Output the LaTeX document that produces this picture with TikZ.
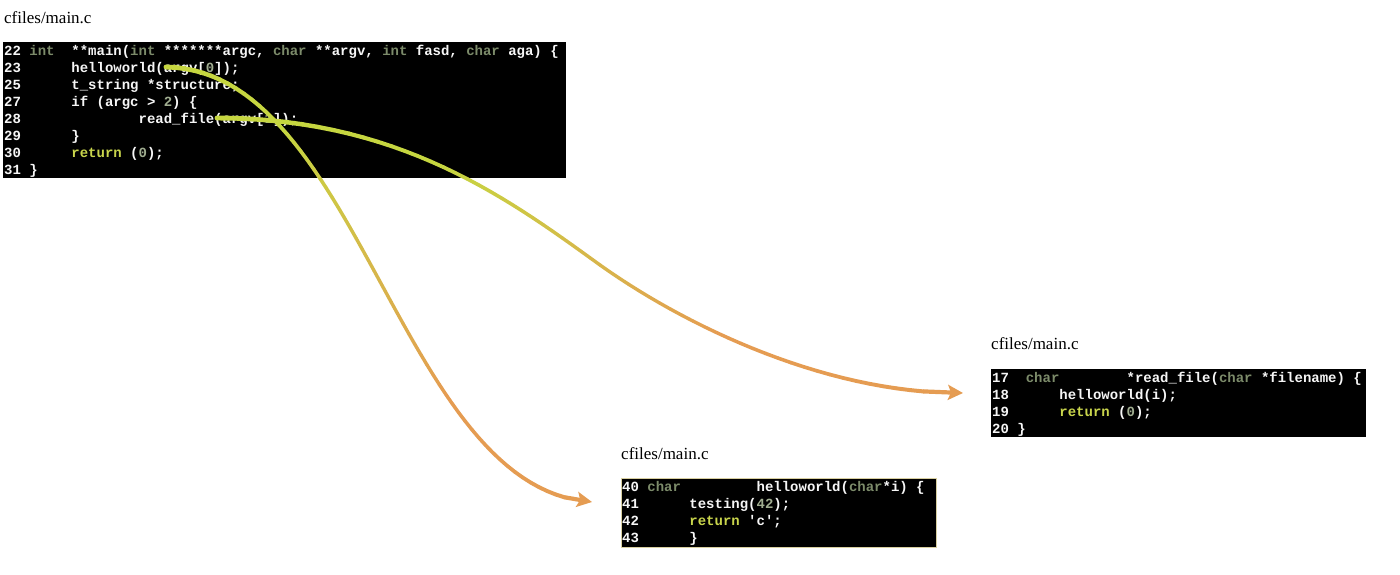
\documentclass[tikz,border=0pt]{standalone}
\usepackage{fontspec}
\setmainfont{Liberation Serif}
\setmonofont{Liberation Mono}
\usetikzlibrary{arrows.meta}
\definecolor{kwc}{RGB}{124,139,106}
\definecolor{numc}{RGB}{160,173,144}
\definecolor{retc}{RGB}{201,213,76}
\definecolor{codefg}{RGB}{246,246,246}
\definecolor{gA}{RGB}{198,214,64}
\definecolor{gB}{RGB}{229,156,82}
\definecolor{bordc}{RGB}{216,207,160}
\newlength\ccw
\setlength\ccw{8.4pt}
\newcommand\cpad[1]{\hspace*{#1\ccw}}
\newcommand\ckw[1]{\textcolor{kwc}{#1}}
\newcommand\cnum[1]{\textcolor{numc}{#1}}
\newcommand\cret[1]{\textcolor{retc}{#1}}
\newcommand\cs{\rule[-4pt]{0pt}{17pt}}
\tikzset{
  lbl/.style={font=\fontsize{17}{20}\selectfont, anchor=base west, inner sep=0pt},
  codebg/.style={fill=black, anchor=north west, inner sep=0pt},
  codetxt/.style={font=\ttfamily\bfseries\fontsize{14}{17}\selectfont, text=codefg,
    align=left, anchor=north west, inner sep=0pt},
  grad/.style={line cap=round},
  tipline/.style={line width=4.2pt, draw=gB, -{Stealth[length=15pt,width=15pt,inset=3pt]}}
}
\begin{document}
\begin{tikzpicture}[x=1pt,y=-1pt]
\useasboundingbox[fill=white] (0,0) rectangle (1400,574);

% ---- labels
\node[lbl] (lab1) at (4,23) {cfiles/main.c};
\node[lbl] (lab2) at (621,459) {cfiles/main.c};
\node[lbl] (lab3) at (991,349) {cfiles/main.c};

% ---- box 1
\node[codebg, minimum width=563pt, minimum height=136pt] (box1) at (3,42) {};
\node[codetxt] (txt1) at (4,42) {%
\cs 22 \ckw{int}\cpad{2}**main(\ckw{int} *******argc, \ckw{char} **argv, \ckw{int} fasd, \ckw{char} aga) \{\\
\cs 23\cpad{6}helloworld(argv[\cnum{0}]);\\
\cs 25\cpad{6}t\_string *structure;\\
\cs 27\cpad{6}if (argc > \cnum{2}) \{\\
\cs 28\cpad{14}read\_file(argv[\cnum{1}]);\\
\cs 29\cpad{6}\}\\
\cs 30\cpad{6}\cret{return} (\cnum{0});\\
\cs 31 \}};

% ---- box 2
\node[codebg, draw=bordc, line width=0.8pt, minimum width=315pt, minimum height=69pt] (box2) at (621,478) {};
\node[codetxt] (txt2) at (622,478.5) {%
\cs 40 \ckw{char}\cpad{9}helloworld(\ckw{char}*i) \{\\
\cs 41\cpad{6}testing(\cnum{42});\\
\cs 42\cpad{6}\cret{return} 'c';\\
\cs 43\cpad{6}\}};

% ---- box 3
\node[codebg, minimum width=375pt, minimum height=68pt] (box3) at (991,369) {};
\node[codetxt] (txt3) at (992,369) {%
\cs 17\cpad{2}\ckw{char}\cpad{8}*read\_file(\ckw{char} *filename) \{\\
\cs 18\cpad{6}helloworld(i);\\
\cs 19\cpad{6}\cret{return} (\cnum{0});\\
\cs 20 \}};

% ---- connector 1 : helloworld call -> box2
\coordinate (s1) at (166,67);
\coordinate (a1) at (360,70);
\coordinate (b1) at (400,490);
\coordinate (e1) at (592,502);
\coordinate (c1-0) at (s1);
\foreach \i [remember=\i as \j (initially 0)] in {1,...,57} {
  \pgfmathsetmacro\t{\i/60}
  \path (s1) .. controls (a1) and (b1) .. (e1) coordinate[pos=\t] (c1-\i);
  \pgfmathtruncatemacro\p{100*min(1,max(0,(\t-0.25)/0.45))}
  \pgfmathsetmacro\w{3.2+1.8*(1-\t)^4+1.0*\t^4}
  \draw[grad, line width=\w pt, draw=gB!\p!gA] (c1-\j) -- (c1-\i);
}
\draw[tipline] (c1-57) -- (e1);

% ---- connector 2 : read_file call -> box3
\coordinate (s2) at (217,118);
\coordinate (a2) at (400,118);
\coordinate (b2) at (510,200);
\coordinate (m2) at (600,265);
\coordinate (a3) at (690,329);
\coordinate (b3) at (830,394);
\coordinate (e2) at (963,393);
\coordinate (c2-0) at (s2);
\foreach \i [remember=\i as \j (initially 0)] in {1,...,57} {
  \pgfmathsetmacro\T{\i/60}
  \ifnum\i<31
    \pgfmathsetmacro\t{\i/30}
    \path (s2) .. controls (a2) and (b2) .. (m2) coordinate[pos=\t] (c2-\i);
  \else
    \pgfmathsetmacro\t{(\i-30)/30}
    \path (m2) .. controls (a3) and (b3) .. (e2) coordinate[pos=\t] (c2-\i);
  \fi
  \pgfmathtruncatemacro\p{100*min(1,max(0,(\T-0.25)/0.45))}
  \pgfmathsetmacro\w{3.2+1.8*(1-\T)^4+1.0*\T^4}
  \draw[grad, line width=\w pt, draw=gB!\p!gA] (c2-\j) -- (c2-\i);
}
\draw[tipline] (c2-57) -- (e2);
\end{tikzpicture}
\end{document}
